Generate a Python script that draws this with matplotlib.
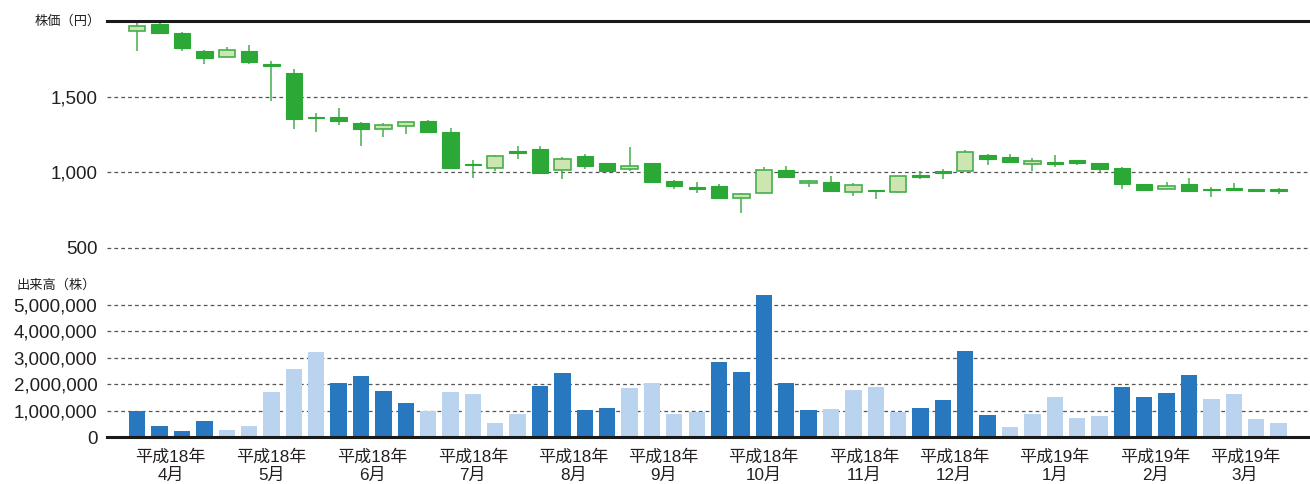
import numpy as np
import matplotlib.pyplot as plt
from matplotlib.ticker import FuncFormatter

plt.rcParams['font.family'] = ['Liberation Sans', 'Noto Sans CJK JP', 'DejaVu Sans']

# 月ごとの週数とラベル
months = ["平成18年\n4月", "平成18年\n5月", "平成18年\n6月", "平成18年\n7月",
          "平成18年\n8月", "平成18年\n9月", "平成18年\n10月", "平成18年\n11月",
          "平成18年\n12月", "平成19年\n1月", "平成19年\n2月", "平成19年\n3月"]
weeks_per_month = [4, 5, 4, 5, 4, 4, 5, 4, 4, 5, 4, 4]

# 週足 (始値, 高値, 安値, 終値)
opens = [1932, 1980, 1923, 1804, 1764, 1802, 1716, 1654, 1367, 1366, 1328, 1289, 1308,
         1339, 1269, 1055, 1031, 1141, 1152, 1018, 1110, 1062, 1020, 1062, 943, 905,
         912, 830, 861, 1015, 932, 936, 872, 883, 872, 982, 1011, 1009, 1115, 1101,
         1057, 1070, 1081, 1064, 1031, 923, 888, 923, 890, 896, 890, 888]
highs = [1990, 1996, 1925, 1808, 1830, 1842, 1736, 1681, 1394, 1425, 1330, 1324, 1332,
         1346, 1291, 1082, 1112, 1174, 1174, 1099, 1121, 1064, 1170, 1064, 949, 934,
         921, 861, 1033, 1044, 949, 976, 932, 883, 978, 1009, 1024, 1148, 1121, 1121,
         1095, 1115, 1081, 1064, 1035, 923, 936, 963, 905, 932, 890, 899]
lows = [1802, 1912, 1802, 1714, 1764, 1714, 1471, 1289, 1268, 1315, 1176, 1231, 1256,
        1262, 1022, 960, 1011, 1090, 987, 958, 1020, 1004, 1007, 932, 892, 866,
        826, 733, 861, 963, 901, 874, 844, 822, 866, 958, 958, 1009, 1051, 1066,
        1009, 1037, 1046, 1000, 890, 874, 888, 872, 839, 879, 868, 857]
closes = [1965, 1919, 1824, 1758, 1806, 1727, 1705, 1355, 1356, 1337, 1284, 1311, 1330,
          1264, 1026, 1047, 1110, 1126, 998, 1090, 1042, 1011, 1040, 936, 912, 890,
          833, 855, 1015, 971, 945, 879, 916, 876, 976, 972, 997, 1134, 1088, 1066,
          1077, 1058, 1059, 1022, 925, 881, 912, 877, 880, 884, 876, 878]

# 出来高 (株)
volumes = [1000000, 430000, 220000, 610000,
           270000, 430000, 1720000, 2560000, 3230000,
           2040000, 2300000, 1760000, 1280000,
           970000, 1720000, 1620000, 520000, 860000,
           1950000, 2440000, 1030000, 1090000,
           1860000, 2030000, 860000, 950000,
           2850000, 2480000, 5380000, 2040000, 1030000,
           1060000, 1770000, 1910000, 960000,
           1080000, 1400000, 3250000, 820000,
           370000, 870000, 1530000, 720000, 780000,
           1910000, 1530000, 1650000, 2340000,
           1430000, 1610000, 700000, 520000]

o = np.array(opens); h = np.array(highs); l = np.array(lows); c = np.array(closes)
x = np.arange(len(opens))
up = c > o

dark_green = "#2ca836"
light_fill = "#cde5b1"
edge_green = "#45ae4c"
dark_blue = "#2878c0"
light_blue = "#bad3ee"
grid_col = "#555555"
txt_col = "#231f20"

fig = plt.figure(figsize=(13.1, 4.84), dpi=100)
left = 107 / 1310
width = (1309 - 107) / 1310
ax1 = fig.add_axes([left, 1 - 248 / 484, width, (248 - 21) / 484])
ax2 = fig.add_axes([left, 1 - 437 / 484, width, (437 - 291.8) / 484])

xl = (-1.35, 52.36)
bw = 0.73

# ローソク足
ax1.vlines(x, l, h, color=edge_green, lw=1.1, zorder=2)
bottoms = np.minimum(o, c)
heights = np.maximum(np.abs(c - o), 4)
ax1.bar(x[~up], heights[~up], bottom=bottoms[~up], width=bw, color=dark_green,
        edgecolor=dark_green, lw=0.8, zorder=3)
ax1.bar(x[up], heights[up], bottom=bottoms[up], width=bw, color=light_fill,
        edgecolor=edge_green, lw=1.2, zorder=3)

ax1.set_xlim(*xl)
ax1.set_ylim(500, 2000)
ax1.set_yticks([500, 1000, 1500])
ax1.yaxis.set_major_formatter(FuncFormatter(lambda v, p: f"{int(v):,}"))
for yv in [500, 1000, 1500]:
    ax1.axhline(yv, color=grid_col, lw=0.9, ls=(0, (3, 2.5)), zorder=1, clip_on=False)
ax1.axhline(2000, color="#1a1a1a", lw=2.2, zorder=4, clip_on=False)
for s in ax1.spines.values():
    s.set_visible(False)
ax1.set_xticks([])
ax1.tick_params(axis='y', length=0, pad=7, labelsize=13.5, labelcolor=txt_col)
ax1.text(-0.005, 2000, "株価（円）", transform=ax1.get_yaxis_transform(), ha='right',
         va='center', fontsize=9.5, color=txt_col)

# 出来高
colors = []
centers = []
start = 0
for i, n in enumerate(weeks_per_month):
    colors += [dark_blue if i % 2 == 0 else light_blue] * n
    centers.append(start + (n - 1) / 2)
    start += n
ax2.bar(x, volumes, width=bw, color=colors, zorder=2)
ax2.set_xlim(*xl)
ax2.set_ylim(0, 5500000)
ax2.set_yticks(np.arange(0, 5000001, 1000000))
ax2.yaxis.set_major_formatter(FuncFormatter(lambda v, p: f"{int(v):,}"))
for yv in range(1000000, 5000001, 1000000):
    ax2.axhline(yv, color=grid_col, lw=0.9, ls=(0, (3, 2.5)), zorder=1)
for s in ['top', 'right', 'left']:
    ax2.spines[s].set_visible(False)
ax2.spines['bottom'].set_linewidth(2.2)
ax2.spines['bottom'].set_color("#1a1a1a")
ax2.spines['bottom'].set_zorder(4)
ax2.set_xticks(centers)
ax2.set_xticklabels(months, fontsize=12.3, color=txt_col, linespacing=1.25)
ax2.tick_params(axis='x', length=0, pad=9)
ax2.tick_params(axis='y', length=0, pad=7, labelsize=13.5, labelcolor=txt_col)
fig.text(17 / 1310, 1 - 285 / 484, "出来高（株）", ha='left', va='center',
         fontsize=9.5, color=txt_col)

fig.savefig("out.png", dpi=100)
